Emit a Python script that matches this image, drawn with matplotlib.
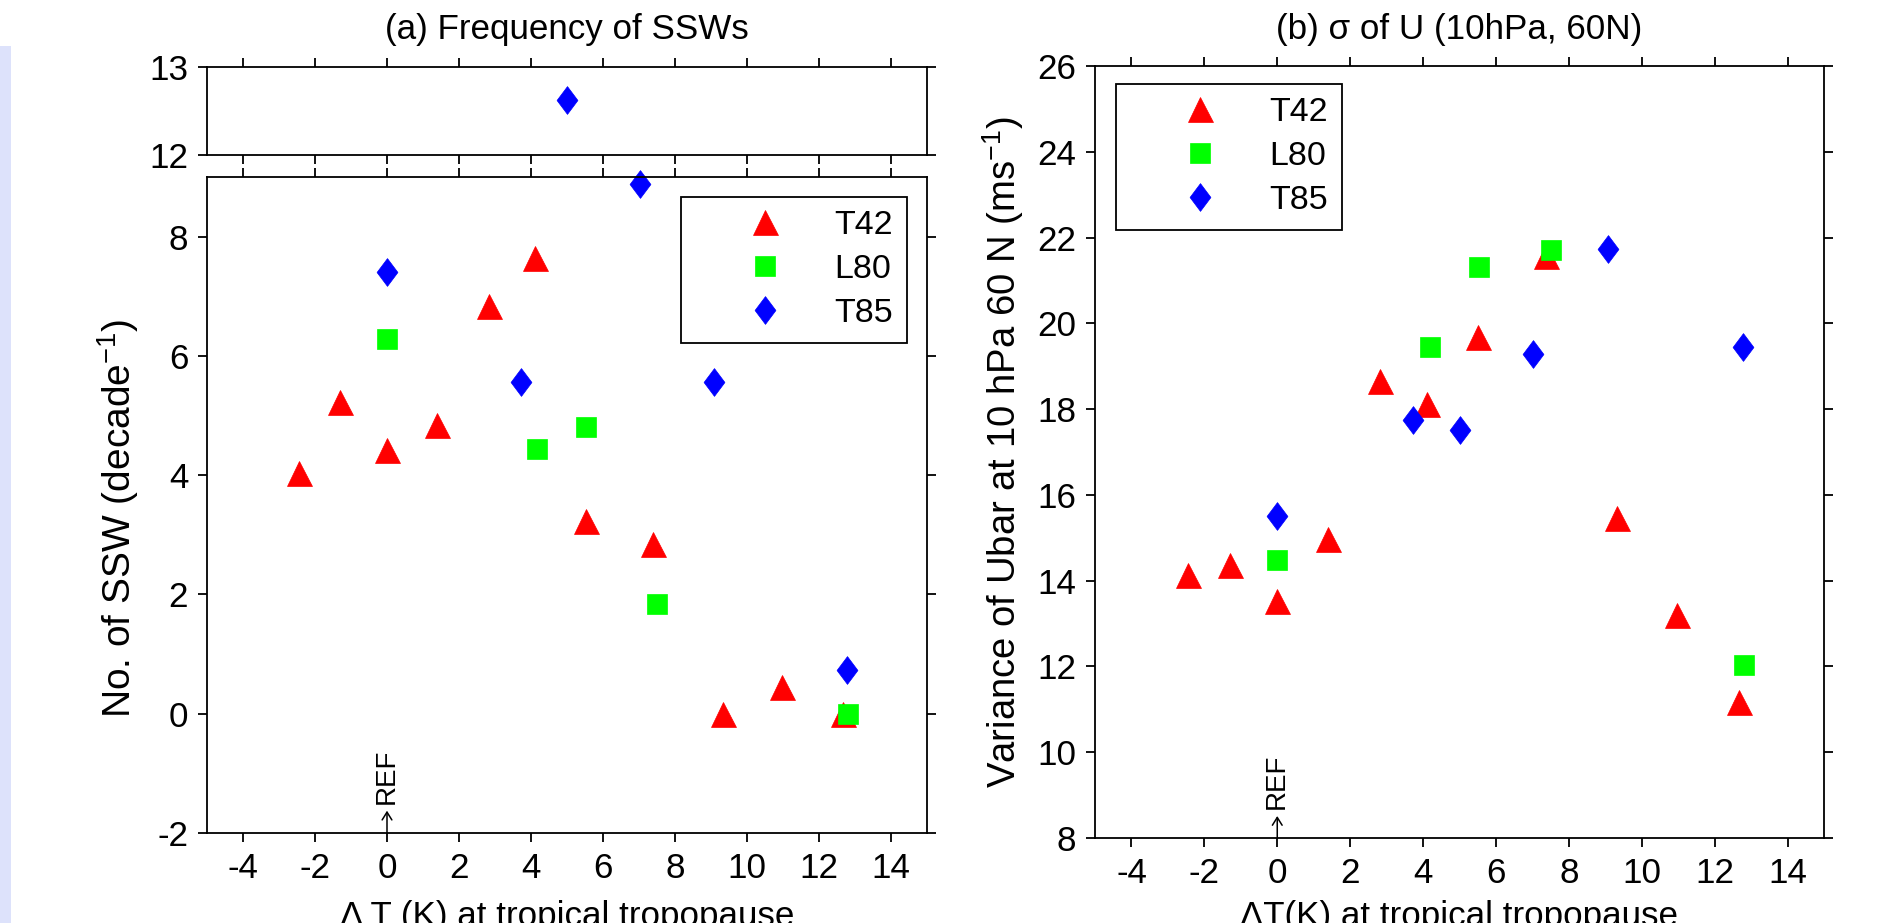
import matplotlib
matplotlib.use("Agg")
import matplotlib.pyplot as plt
from matplotlib.patches import Rectangle
from matplotlib.path import Path

plt.rcParams['font.family'] = ['Liberation Sans', 'DejaVu Sans']
plt.rcParams['axes.unicode_minus'] = False
plt.rcParams['mathtext.fontset'] = 'custom'
plt.rcParams['mathtext.rm'] = 'Liberation Sans'
plt.rcParams['mathtext.it'] = 'Liberation Sans:italic'

# -------------- data ----------------------------------------
# x: Delta T (K) at tropical tropopause
t42_dt = [-2.45, -1.3, 0.0, 1.38, 2.82, 4.1, 5.52, 7.38, 9.32, 10.98, 12.68]
l80_dt = [0.0, 4.18, 5.53, 7.5, 12.8]
t85_dt = [0.0, 3.72, 5.0, 7.02, 9.08, 12.79]

# (a) No. of SSW per decade
t42_ssw = [4.04, 5.23, 4.43, 4.84, 6.84, 7.64, 3.24, 2.85, 0.0, 0.44, 0.0]
l80_ssw = [6.29, 4.44, 4.81, 1.84, 0.0]
t85_ssw = [7.41, 5.56, 12.63, 8.89, 5.56, 0.74]

# (b) sigma of U at 10 hPa 60N
t42_sig = [14.14, 14.36, 13.53, 14.96, 18.65, 18.12, 19.68, 21.58, 15.45, 13.19, 11.17]
l80_sig = [14.48, 19.44, 21.31, 21.71, 12.04]
t85_sig = [15.50, 17.75, 17.51, 19.29, 21.74, 19.44]

labels = ['T42', 'L80', 'T85']
xticks = [-4, -2, 0, 2, 4, 6, 8, 10, 12, 14]
# ------------------------------------------------------------

# diamond a bit wider than matplotlib's thin 'd'
diamond = Path([(0, 1), (0.75, 0), (0, -1), (-0.75, 0), (0, 1)],
               [Path.MOVETO, Path.LINETO, Path.LINETO, Path.LINETO, Path.CLOSEPOLY])
styles = [dict(marker='^', ms=18, color='#ff0000'),
          dict(marker='s', ms=13.7, color='#00ff00'),
          dict(marker=diamond, ms=20, color='#0000ff')]

W, H = 1884, 923
FS = 25.2
fig = plt.figure(figsize=(W / 100, H / 100), dpi=100)
fig.patches.append(Rectangle((0, 0), 11 / W, 1 - 46 / H, transform=fig.transFigure,
                             facecolor='#dde2fb', edgecolor='none'))


def box(l, t, r, b):
    return [l / W, 1 - b / H, (r - l) / W, (b - t) / H]


def style_axes(ax):
    ax.set_xlim(-5, 15)
    ax.set_xticks(xticks)
    for s in ax.spines.values():
        s.set_linewidth(1.3)
    ax.tick_params(direction='out', length=6.5, width=1.3, labelsize=FS,
                   top=True, right=True, pad=7)


def ref_mark(ax, frac):
    # small upward arrow and rotated "REF" at dT = 0
    ax.annotate('', xy=(0, frac), xycoords=('data', 'axes fraction'),
                xytext=(0, 0), textcoords=('data', 'axes fraction'),
                arrowprops=dict(arrowstyle='->,head_length=0.4,head_width=0.25',
                                lw=1.1, color='black', shrinkA=0, shrinkB=0,
                                mutation_scale=14))
    ax.annotate('REF', xy=(0, frac), xycoords=('data', 'axes fraction'),
                xytext=(0, 5), textcoords='offset points', rotation=90,
                ha='center', va='bottom', fontsize=20)


def add_legend(ax, **kw):
    leg = ax.legend(borderaxespad=0, fontsize=24.5, numpoints=1,
                    handlelength=4.1, handletextpad=0.0, borderpad=0.4,
                    labelspacing=0.38, fancybox=False, framealpha=1,
                    edgecolor='black', **kw)
    leg.get_frame().set_linewidth(1.3)


ax_top = fig.add_axes(box(207, 67, 927, 155))
ax_low = fig.add_axes(box(207, 177, 927, 833))
ax_b = fig.add_axes(box(1095, 66, 1824, 838))

# ---------------- panel (a), broken y axis ------------------
xs = [t42_dt, l80_dt, t85_dt]
ys_a = [t42_ssw, l80_ssw, t85_ssw]
for x, y, st, lab in zip(xs, ys_a, styles, labels):
    lo = [(a, b) for a, b in zip(x, y) if b < 12]
    hi = [(a, b) for a, b in zip(x, y) if b >= 12]
    ax_low.plot([p[0] for p in lo], [p[1] for p in lo], linestyle='none',
                mec=st['color'], mew=0.5, clip_on=False, label=lab, **st)
    if hi:
        ax_top.plot([p[0] for p in hi], [p[1] for p in hi], linestyle='none',
                    mec=st['color'], mew=0.5, clip_on=False, **st)

style_axes(ax_top)
ax_top.set_ylim(12, 13)
ax_top.set_yticks([12, 13])
ax_top.tick_params(labelbottom=False)

style_axes(ax_low)
ax_low.set_ylim(-2, 9)
ax_low.set_yticks([-2, 0, 2, 4, 6, 8])
ax_low.set_ylabel('No. of SSW (decade$^{-1}$)', fontsize=28, va='center')
ax_low.yaxis.set_label_coords(-0.124, 0.48)
ref_mark(ax_low, 0.034)
add_legend(ax_low, loc='upper right', bbox_to_anchor=(0.972, 0.97))

# ---------------- panel (b) ---------------------------------
ys_b = [t42_sig, l80_sig, t85_sig]
for x, y, st, lab in zip(xs, ys_b, styles, labels):
    ax_b.plot(x, y, linestyle='none', mec=st['color'], mew=0.5, clip_on=False,
              label=lab, **st)

style_axes(ax_b)
ax_b.set_ylim(8, 26)
ax_b.set_yticks(range(8, 27, 2))
ax_b.set_ylabel('Variance of Ubar at 10 hPa 60 N (ms$^{-1}$)', fontsize=27.5,
                va='center')
ax_b.yaxis.set_label_coords(-0.126, 0.5)
ref_mark(ax_b, 0.0285)
add_legend(ax_b, loc='upper left', bbox_to_anchor=(0.029, 0.977))

# titles and x labels (the x labels are cut by the bottom edge, as in the original)
fig.text((207 + 927) / 2 / W, 1 - 29 / H, '(a) Frequency of SSWs',
         ha='center', va='center', fontsize=FS)
fig.text((1095 + 1824) / 2 / W, 1 - 29 / H, '(b) \u03c3 of U (10hPa, 60N)',
         ha='center', va='center', fontsize=FS)
fig.text((207 + 927) / 2 / W, 1 - 900 / H, '\u0394 T (K) at tropical tropopause',
         ha='center', va='top', fontsize=FS)
fig.text((1095 + 1824) / 2 / W, 1 - 900 / H, '\u0394T(K) at tropical tropopause',
         ha='center', va='top', fontsize=FS)

fig.savefig('out.png', dpi=100)
